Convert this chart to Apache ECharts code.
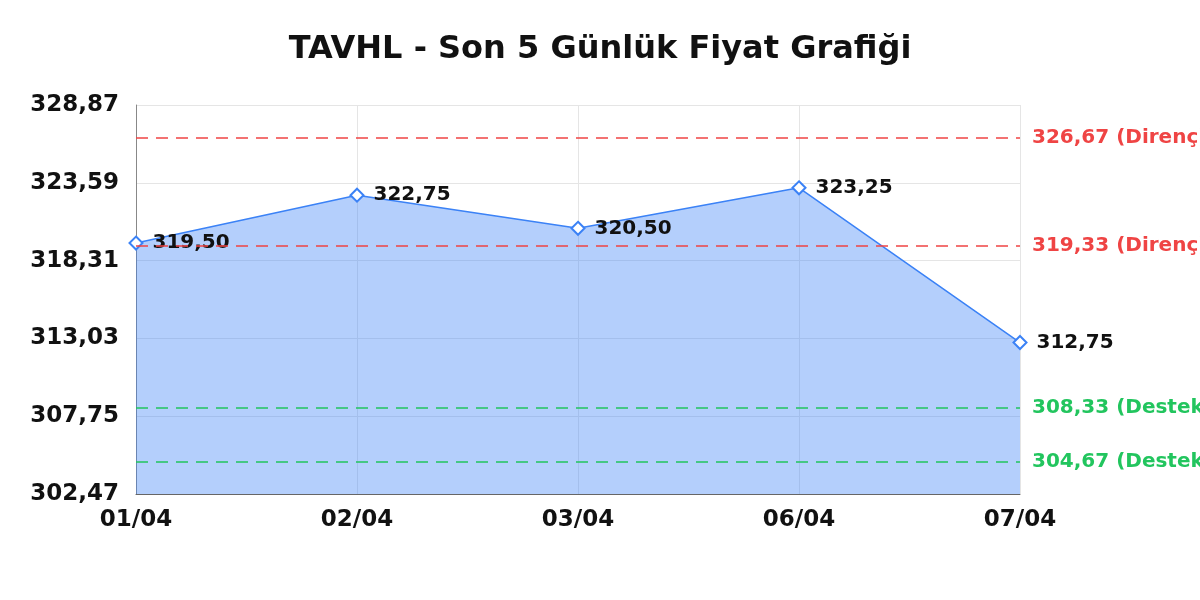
<!DOCTYPE html>
<html><head><meta charset="utf-8">
<script src="https://cdn.jsdelivr.net/npm/echarts@6/dist/echarts.min.js"></script>
<style>html,body{margin:0;padding:0;background:#fff}#c{width:1200px;height:600px}</style>
</head><body><div id="c"></div>
<script>
const categories = ['01/04','02/04','03/04','06/04','07/04'];
const prices = [319.50, 322.75, 320.50, 323.25, 312.75];
const resistance = [326.67, 319.33];
const support = [308.33, 304.67];
const yMin = 302.47, yMax = 328.87, yStep = 5.28;
const fmt = v => v.toFixed(2).replace('.', ',');
const FONT = '"DejaVu Sans", sans-serif';
const RED = '#ef4444', GREEN = '#22c55e', BLUE = '#3b82f6';

const markData = [
  ...resistance.map(v => ({yAxis: v, name: 'Direnç', lineStyle:{color:RED}, label:{color:RED}})),
  ...support.map(v => ({yAxis: v, name: 'Destek', lineStyle:{color:GREEN}, label:{color:GREEN}}))
];

const chart = echarts.init(document.getElementById('c'));
chart.setOption({
  animation: false,
  title: {text: 'TAVHL - Son 5 Günlük Fiyat Grafiği', left: 'center', top: 29,
    textStyle: {fontFamily: FONT, fontSize: 32, fontWeight: 'bold', color: '#111'}},
  grid: {left: 136, right: 180, top: 105, bottom: 106},
  xAxis: {type: 'category', data: categories, boundaryGap: false,
    axisLine: {lineStyle: {color: '#666', width: 1}},
    axisTick: {show: false},
    splitLine: {show: true, lineStyle: {color: '#e5e5e5'}},
    axisLabel: {fontFamily: FONT, fontSize: 23, fontWeight: 'bold', color: '#111', margin: 15}},
  yAxis: {type: 'value', min: yMin, max: yMax, interval: yStep,
    axisLine: {show: true, lineStyle: {color: '#888'}},
    axisTick: {show: false},
    splitLine: {lineStyle: {color: '#e5e5e5'}},
    axisLabel: {fontFamily: FONT, fontSize: 23, fontWeight: 'bold', color: '#111', margin: 17,
      formatter: v => fmt(v)}},
  series: [{
    type: 'line', data: prices,
    symbol: 'diamond', symbolSize: 13,
    itemStyle: {color: '#fff', borderColor: BLUE, borderWidth: 2},
    lineStyle: {color: BLUE, width: 1.5},
    areaStyle: {color: 'rgba(59,130,246,0.38)', opacity: 1},
    label: {show: true, position: 'right', distance: 9, formatter: p => fmt(p.value),
      fontFamily: FONT, fontSize: 20, fontWeight: 'bold', color: '#111'},
    markLine: {silent: true, symbol: 'none',
      lineStyle: {type: [12, 8], width: 1.5},
      label: {position: 'end', distance: 12, fontFamily: FONT, fontSize: 20, fontWeight: 'bold',
        formatter: p => fmt(p.value) + ' (' + p.name + ')'},
      data: markData}
  }]
});
</script></body></html>
